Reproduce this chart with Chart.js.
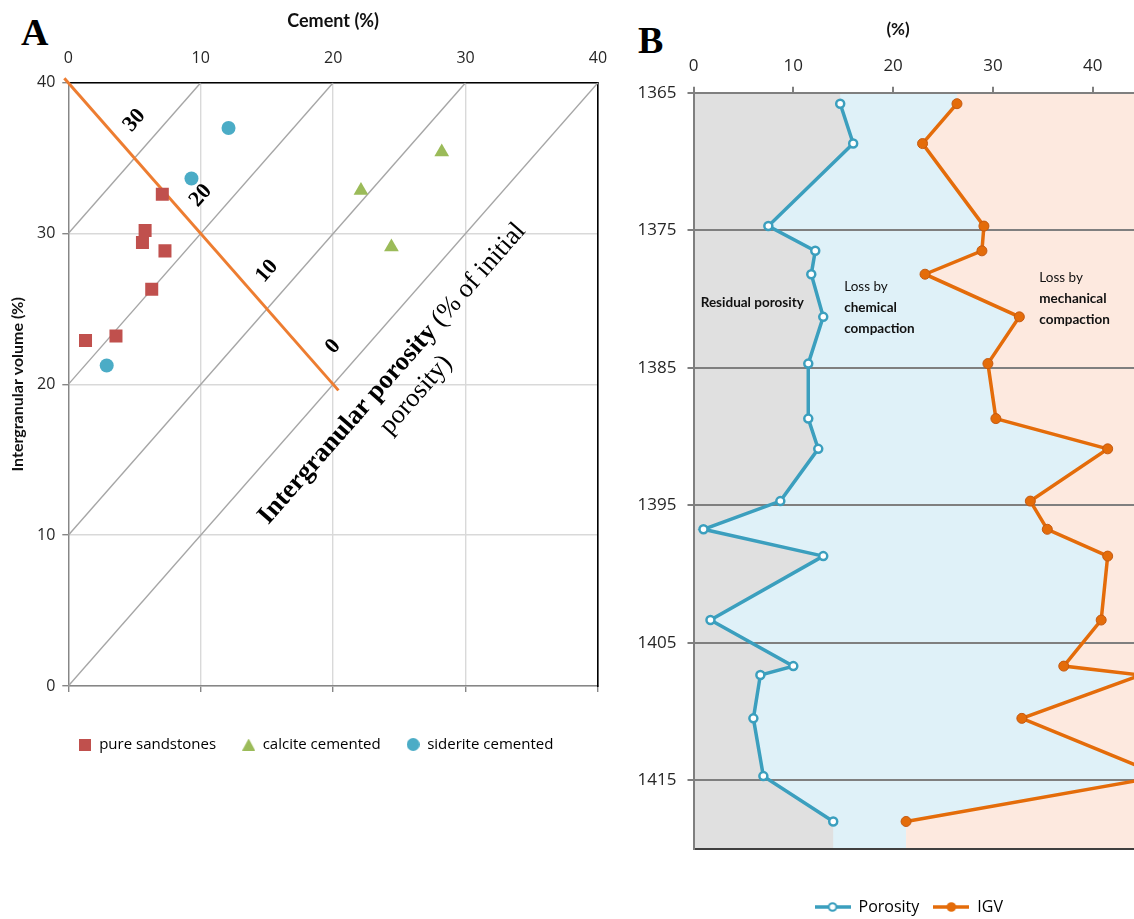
<!DOCTYPE html>
<html lang="en">
<head>
<meta charset="utf-8">
<title>Intergranular volume and compaction profile</title>
<script src="https://cdn.jsdelivr.net/npm/chart.js@4.4.1/dist/chart.umd.min.js"></script>
<style>
  html, body { margin: 0; padding: 0; background: #fff; }
  body { position: relative; width: 1134px; height: 919px; overflow: hidden; }
  .panel { position: absolute; top: 0; }
  #panelA { left: 0; width: 632px; height: 762px; }
  #panelB { left: 625px; width: 574px; height: 925px; }
  .tag { position: absolute; font: bold 38px "Liberation Serif", "Times New Roman", serif; line-height: 1; color: #000; }
</style>
</head>
<body>
<div class="tag" style="left:21px; top:13px">A</div>
<div class="tag" style="left:638px; top:21px">B</div>
<div class="panel" id="panelA"><canvas id="chartA"></canvas></div>
<div class="panel" id="panelB"><canvas id="chartB"></canvas></div>
<script>
// ---- panel A: cement vs intergranular volume (%) ----
const sandCement = [7.1, 5.8, 5.6, 7.3, 6.3, 1.3, 3.6];
const sandIgv = [32.6, 30.2, 29.4, 28.85, 26.3, 22.9, 23.2];
const calciteCement = [22.1, 28.2, 24.4];
const calciteIgv = [32.85, 35.4, 29.1];
const sideriteCement = [12.1, 9.3, 2.9];
const sideriteIgv = [37.0, 33.65, 21.25];
// IGV + cement = 40 % (initial porosity)
const initialLineCement = [-0.3, 20.4];
const initialLineIgv = [40.3, 19.6];
// iso lines of intergranular porosity: IGV - cement = k
const isoPorosity = [30, 20, 10, 0];
const ticksA = [0, 10, 20, 30, 40];

// ---- panel B: depth profile ----
const depth = [1365.8, 1368.7, 1374.7, 1376.5, 1378.2, 1381.3, 1384.7, 1388.7, 1390.9,
  1394.7, 1396.75, 1398.7, 1403.35, 1406.7, 1407.35, 1410.5, 1414.7, 1418.0];
const porosity = [14.7, 16.0, 7.5, 12.2, 11.8, 13.0, 11.5, 11.5, 12.5,
  8.7, 1.0, 13.0, 1.7, 10.0, 6.7, 6.0, 7.0, 14.0];
const igv = [26.4, 22.95, 29.1, 28.9, 23.2, 32.65, 29.5, 30.3, 41.5,
  33.75, 35.45, 41.5, 40.85, 37.1, 44.8, 32.9, 47.0, 21.3];
const depthTicks = [1365, 1375, 1385, 1395, 1405, 1415];
const percentTicks = [0, 10, 20, 30, 40, 50];
const depthTop = 1365;
const depthBottom = 1420;

const RED = '#c0504d', GREEN = '#9bbb59', BLUE = '#4bacc6', ORANGE_A = '#ed7d31';
const TEAL = '#3b9fbe', ORANGE = '#e46c0a';
const TEXT = '#262626';
const SANS = 'Lato, "Open Sans", sans-serif';
const WIDE = '"Open Sans", Lato, sans-serif';
const SERIF = '"Liberation Serif", "Times New Roman", serif';

Chart.defaults.font.family = SANS;
Chart.defaults.color = TEXT;

const pts = (xs, ys) => xs.map((v, i) => ({ x: v, y: ys[i] }));
const fixTicks = values => scale => { scale.ticks = values.map(v => ({ value: v })); };
const plain = v => String(v);
// fixed axis band; no extra room reserved for the end tick labels
const bandHeight = h => s => { s.height = h; s.paddingLeft = 0; s.paddingRight = 0; };

function makeIcon(w, h, paint) {
  const c = document.createElement('canvas');
  c.width = w; c.height = h;
  paint(c.getContext('2d'));
  return c;
}

// ---------------- panel A ----------------
const iconSquare = makeIcon(12, 12, g => { g.fillStyle = RED; g.fillRect(0, 0, 12, 12); });
const iconTriangle = makeIcon(13, 12, g => {
  g.fillStyle = GREEN; g.beginPath(); g.moveTo(6.5, 0); g.lineTo(13, 12); g.lineTo(0, 12); g.closePath(); g.fill();
});
const iconCircle = makeIcon(13, 13, g => {
  g.fillStyle = BLUE; g.beginPath(); g.arc(6.5, 6.5, 6.5, 0, Math.PI * 2); g.fill();
});

const isoLabels = {
  id: 'isoLabels',
  afterDatasetsDraw(chart) {
    const { ctx, scales: { x, y } } = chart;
    const angle = Math.atan2(y.getPixelForValue(40) - y.getPixelForValue(0),
                             x.getPixelForValue(40) - x.getPixelForValue(0));
    ctx.save();
    ctx.fillStyle = '#000';
    ctx.textAlign = 'center';
    ctx.textBaseline = 'middle';
    ctx.font = 'bold 22px ' + SERIF;
    isoPorosity.forEach(k => {
      ctx.save();
      ctx.translate(x.getPixelForValue((40 - k) / 2), y.getPixelForValue((40 + k) / 2 + 2.5));
      ctx.rotate(angle);
      ctx.fillText(String(k), 0, 0);
      ctx.restore();
    });

    // caption running along the iso lines
    const boldFont = 'bold 26.5px ' + SERIF, regFont = '26.5px ' + SERIF;
    const part1 = 'Intergranular porosity', part2 = ' (% of initial';
    ctx.font = boldFont; const w1 = ctx.measureText(part1).width;
    ctx.font = regFont; const w2 = ctx.measureText(part2).width;
    ctx.translate(x.getPixelForValue(24.45), y.getPixelForValue(20.7));
    ctx.rotate(angle);
    ctx.textAlign = 'left';
    ctx.font = boldFont; ctx.fillText(part1, -(w1 + w2) / 2, 0);
    ctx.font = regFont; ctx.fillText(part2, -(w1 + w2) / 2 + w1, 0);
    ctx.textAlign = 'center';
    ctx.fillText('porosity)', 0, 32);
    ctx.restore();
  }
};

new Chart(document.getElementById('chartA'), {
  type: 'scatter',
  data: {
    datasets: [
      { label: 'pure sandstones', data: pts(sandCement, sandIgv), pointStyle: 'rect',
        pointRadius: 9.2, backgroundColor: RED, borderWidth: 0 },
      { label: 'calcite cemented', data: pts(calciteCement, calciteIgv), pointStyle: 'triangle',
        pointRadius: 8.5, backgroundColor: GREEN, borderWidth: 0 },
      { label: 'siderite cemented', data: pts(sideriteCement, sideriteIgv), pointStyle: 'circle',
        pointRadius: 7, backgroundColor: BLUE, borderWidth: 0 },
      { label: 'initial', data: pts(initialLineCement, initialLineIgv), showLine: true,
        borderColor: ORANGE_A, borderWidth: 3, pointRadius: 0, clip: false },
      ...isoPorosity.map(k => ({
        label: 'iso ' + k, data: [{ x: 0, y: k }, { x: 40 - k, y: 40 }], showLine: true,
        borderColor: '#a6a6a6', borderWidth: 1.4, pointRadius: 0
      }))
    ]
  },
  options: {
    animation: false,
    responsive: true,
    maintainAspectRatio: false,
    devicePixelRatio: 1,
    layout: { padding: 0 },
    plugins: {
      tooltip: { enabled: false },
      legend: {
        position: 'bottom',
        labels: {
          usePointStyle: true, pointStyleWidth: 13, padding: 26,
          font: { size: 15, family: WIDE }, color: TEXT,
          generateLabels: () => [
            { text: 'pure sandstones', pointStyle: iconSquare, lineWidth: 0, datasetIndex: 0 },
            { text: 'calcite cemented', pointStyle: iconTriangle, lineWidth: 0, datasetIndex: 1 },
            { text: 'siderite cemented', pointStyle: iconCircle, lineWidth: 0, datasetIndex: 2 }
          ]
        }
      }
    },
    scales: {
      x: {
        type: 'linear', position: 'top', min: 0, max: 40,
        afterBuildTicks: fixTicks(ticksA),
        grid: { color: '#d9d9d9', lineWidth: 1.4, drawTicks: false },
        border: { color: '#000', width: 1.6 },
        ticks: { font: { size: 16, family: WIDE }, padding: 15, callback: plain },
        title: { display: true, text: 'Cement (%)', font: { size: 18, weight: 'bold' }, color: '#111',
                 padding: { top: 10, bottom: 0 } },
        afterFit: bandHeight(82.7)
      },
      xb: {
        type: 'linear', axis: 'x', position: 'bottom', min: 0, max: 40,
        afterBuildTicks: fixTicks(ticksA),
        grid: { drawOnChartArea: false, drawTicks: true, tickLength: 6, tickColor: '#868686', lineWidth: 1.4 },
        border: { color: '#868686', width: 1.4 },
        ticks: { display: false },
        afterFit: bandHeight(25)
      },
      y: {
        type: 'linear', position: 'left', min: 0, max: 40,
        afterBuildTicks: fixTicks(ticksA),
        grid: { color: '#d9d9d9', lineWidth: 1.4, tickLength: 6, tickColor: '#868686' },
        border: { color: '#868686', width: 1.4 },
        ticks: { font: { size: 16, family: WIDE }, padding: 7, callback: plain },
        title: { display: true, text: 'Intergranular volume (%)', font: { size: 16, weight: 'bold' }, color: '#111',
                 padding: { top: 8.5, bottom: 0 } },
        afterFit: s => { s.width = 68.3; }
      },
      yr: {
        type: 'linear', axis: 'y', position: 'right', min: 0, max: 40,
        grid: { display: false },
        border: { color: '#000', width: 1.6 },
        ticks: { display: false },
        afterFit: s => { s.width = 34; }
      }
    }
  },
  plugins: [isoLabels]
});

// ---------------- panel B ----------------
const band = vals => [{ x: vals[0], y: depthTop }, ...pts(vals, depth), { x: vals[vals.length - 1], y: depthBottom }];

function seriesIcon(color, fill) {
  return makeIcon(36, 12, g => {
    g.strokeStyle = color; g.lineWidth = 3.5;
    g.beginPath(); g.moveTo(0, 6); g.lineTo(36, 6); g.stroke();
    g.beginPath(); g.arc(18, 6, 3.8, 0, Math.PI * 2);
    g.fillStyle = fill; g.fill(); g.lineWidth = 2; g.stroke();
  });
}

const zoneNotes = [
  { lines: [['Residual porosity', 'bold']], x: 0.72, depth: 1380.27 },
  { lines: [['Loss by', 'normal'], ['chemical', 'bold'], ['compaction', 'bold']], x: 15.1, depth: 1379.07 },
  { lines: [['Loss by', 'normal'], ['mechanical', 'bold'], ['compaction', 'bold']], x: 34.65, depth: 1378.45 }
];

const profileNotes = {
  id: 'profileNotes',
  afterDatasetsDraw(chart) {
    const { ctx, scales: { x, y } } = chart;
    ctx.save();
    ctx.fillStyle = '#111';
    ctx.textAlign = 'left';
    ctx.textBaseline = 'middle';
    zoneNotes.forEach(n => {
      const px = x.getPixelForValue(n.x);
      const py = y.getPixelForValue(n.depth);
      n.lines.forEach(([t, w], i) => {
        ctx.font = w + ' 13.5px ' + SANS;
        ctx.fillText(t, px, py + i * 21);
      });
    });
    // axis caption
    ctx.textAlign = 'center';
    ctx.font = 'bold 17px ' + SANS;
    ctx.fillText('(%)', x.getPixelForValue(20.5), 30);
    ctx.restore();
  }
};

new Chart(document.getElementById('chartB'), {
  type: 'line',
  data: {
    datasets: [
      { label: 'Porosity', data: pts(porosity, depth), borderColor: TEAL, borderWidth: 3.5,
        pointRadius: 4, pointBorderWidth: 2.5, pointBackgroundColor: '#fff', pointBorderColor: TEAL, fill: false },
      { label: 'IGV', data: pts(igv, depth), borderColor: ORANGE, borderWidth: 3.5,
        pointRadius: 5, pointBorderWidth: 1, pointBackgroundColor: ORANGE, pointBorderColor: '#c55a11', fill: false },
      { label: 'residual', data: band(porosity), fill: 'origin', backgroundColor: '#e0e0e0',
        borderWidth: 0, borderColor: 'transparent', pointRadius: 0 },
      { label: 'mechanical', data: band(igv), fill: { value: 50 }, backgroundColor: '#fde9df',
        borderWidth: 0, borderColor: 'transparent', pointRadius: 0 },
      { label: 'chemical', data: band(igv), fill: 'origin', backgroundColor: '#dff1f8',
        borderWidth: 0, borderColor: 'transparent', pointRadius: 0 }
    ]
  },
  options: {
    animation: false,
    responsive: true,
    maintainAspectRatio: false,
    devicePixelRatio: 1,
    indexAxis: 'y',
    layout: { padding: { left: 0, right: 6.5, top: 0, bottom: 0 } },
    plugins: {
      tooltip: { enabled: false },
      filler: { drawTime: 'beforeDraw' },
      legend: {
        position: 'bottom',
        labels: {
          usePointStyle: true, pointStyleWidth: 36, padding: 14,
          font: { size: 16, family: WIDE }, color: TEXT,
          generateLabels: () => [
            { text: 'Porosity', pointStyle: seriesIcon(TEAL, '#fff'), lineWidth: 0, datasetIndex: 0 },
            { text: 'IGV', pointStyle: seriesIcon(ORANGE, ORANGE), lineWidth: 0, datasetIndex: 1 }
          ]
        }
      }
    },
    scales: {
      x: {
        type: 'linear', position: 'top', min: 0, max: 50,
        afterBuildTicks: fixTicks(percentTicks),
        grid: { drawOnChartArea: false, drawTicks: true, tickLength: 6, tickColor: '#7f7f7f', lineWidth: 2 },
        border: { color: '#7f7f7f', width: 2 },
        ticks: { font: { size: 17, family: WIDE }, padding: 10, callback: plain },
        afterFit: bandHeight(92.7)
      },
      xb: {
        type: 'linear', axis: 'x', position: 'bottom', min: 0, max: 50,
        grid: { display: false },
        border: { color: '#404040', width: 2 },
        ticks: { display: false },
        afterFit: bandHeight(36)
      },
      y: {
        type: 'linear', reverse: true, min: depthTop, max: depthBottom,
        afterBuildTicks: fixTicks(depthTicks),
        grid: { color: '#7f7f7f', lineWidth: 2, tickLength: 6, tickColor: '#7f7f7f' },
        border: { color: '#7f7f7f', width: 2 },
        ticks: { font: { size: 17, family: WIDE }, padding: 11, callback: plain },
        afterFit: s => { s.width = 68.5; }
      }
    }
  },
  plugins: [profileNotes]
});
</script>
</body>
</html>
